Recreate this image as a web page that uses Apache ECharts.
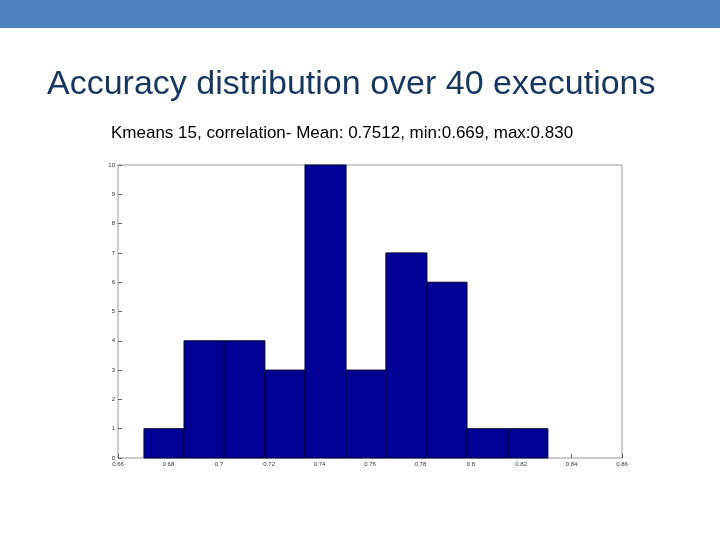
<!DOCTYPE html>
<html><head><meta charset="utf-8">
<script src="https://cdn.jsdelivr.net/npm/echarts@6/dist/echarts.min.js"></script>
<style>html,body{margin:0;padding:0;background:#fff}#c{width:720px;height:540px}</style>
</head><body><div id="c"></div>
<script>
const binEdges = [0.6703,0.6862,0.7021,0.7183,0.7342,0.7505,0.7663,0.7826,0.7985,0.8148,0.8306];
const counts = [1,4,4,3,10,3,7,6,1,1];
const xTicks = [0.66,0.68,0.7,0.72,0.74,0.76,0.78,0.8,0.82,0.84,0.86];
const data = counts.map((c,i)=>[binEdges[i],binEdges[i+1],c]);
const chart = echarts.init(document.getElementById('c'));
chart.setOption({
  animation:false,
  graphic:[{type:'rect',shape:{x:0,y:0,width:720,height:28},style:{fill:'#4f81bd'}}],
  title:[
    {text:'Accuracy distribution over 40 executions',left:42,top:63,textStyle:{fontFamily:'Liberation Sans',fontSize:34,fontWeight:'normal',color:'#17375e'}},
    {text:'Kmeans 15, correlation- Mean: 0.7512, min:0.669, max:0.830',left:106,top:120,textStyle:{fontFamily:'Liberation Sans',fontSize:17,fontWeight:'normal',color:'#000'}}
  ],
  grid:{left:118,top:165,width:504,height:293,show:true,borderColor:'#999',borderWidth:1,backgroundColor:'#fff'},
  xAxis:{type:'value',min:0.66,max:0.86,interval:0.02,
    axisLine:{show:false},axisTick:{show:true,inside:true,length:4,lineStyle:{color:'#666'}},
    splitLine:{show:false},
    axisLabel:{fontSize:6,color:'#333',margin:3,formatter:v=>String(+v.toFixed(2))}},
  yAxis:{type:'value',min:0,max:10,interval:1,
    axisLine:{show:false},axisTick:{show:true,inside:true,length:4,lineStyle:{color:'#666'}},
    splitLine:{show:false},
    axisLabel:{fontSize:6,color:'#333',margin:3}},
  series:[{type:'custom',data:data,encode:{x:[0,1],y:2},
    renderItem:(params,api)=>{
      const p0=api.coord([api.value(0),api.value(2)]);
      const p1=api.coord([api.value(1),0]);
      return {type:'rect',shape:{x:p0[0],y:p0[1],width:p1[0]-p0[0],height:p1[1]-p0[1]},
        style:{fill:'#000094',stroke:'#000033',lineWidth:1}};
    }}]
});
</script></body></html>
